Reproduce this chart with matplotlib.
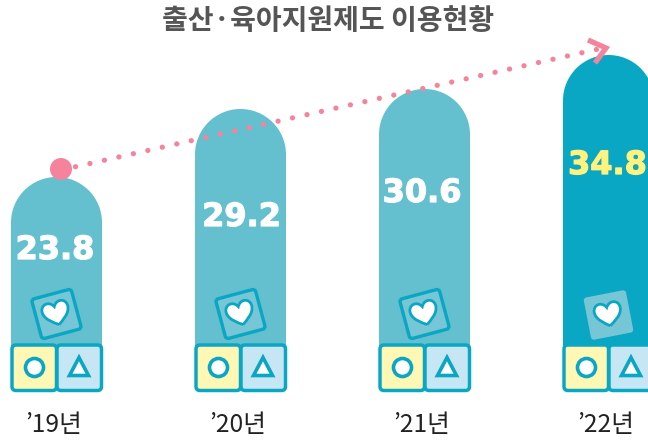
import numpy as np
import matplotlib
matplotlib.use("Agg")
import matplotlib.pyplot as plt
import matplotlib.patheffects as pe
from matplotlib.patches import Circle, FancyBboxPatch, PathPatch, Polygon
from matplotlib.path import Path
from matplotlib.transforms import Affine2D

plt.rcParams['font.family'] = ['Noto Sans CJK KR', 'DejaVu Sans']

years = ["’19년", "’20년", "’21년", "’22년"]
values = ["23.8", "29.2", "30.6", "34.8"]
# drawn height of each bar, the picture is not to scale with the values
bar_heights = [213, 281, 301, 335]

TEAL = "#0AA7C4"
BAR = "#64BFCF"
PINK = "#F5839C"
YELLOW = "#FFF7B4"
SKY = "#C6E6F4"

BASE = 390
BAR_W = 91
xs = 56.5 + 184 * np.arange(len(years))
label_rows = [250.5, 217.5, 193.5, 165.5]
label_shift = [-1.5, 1, -2.5, -1]


def py(pixel_y):
    """picture row to data y, data y is the height above the bar base"""
    return BASE - pixel_y


fig = plt.figure(figsize=(6.48, 4.40), dpi=100)
ax = fig.add_axes([0, 0, 1, 1])
ax.set_xlim(0, 648)
ax.set_ylim(py(440), py(0))
ax.set_axis_off()


def heart(cx, cy, size, angle):
    verts = np.array([
        (0, 1.0), (-0.4, 0.7), (-1.1, 0.3), (-1.1, -0.35),
        (-1.1, -1.0), (-0.3, -1.15), (0, -0.55),
        (0.3, -1.15), (1.1, -1.0), (1.1, -0.35),
        (1.1, 0.3), (0.4, 0.7), (0, 1.0),
    ]) * [1, -1] * size
    codes = [Path.MOVETO] + [Path.CURVE4] * 12
    tr = Affine2D().rotate_deg(angle).translate(cx, cy) + ax.transData
    ax.add_patch(PathPatch(Path(verts, codes), fc="white", ec=TEAL, lw=2.0, transform=tr, zorder=6))


def block(x0, y0, w, h, color, edge=TEAL):
    ax.add_patch(FancyBboxPatch((x0 + 3, py(y0 + h) + 3), w - 6, h - 6, boxstyle="round,pad=3,rounding_size=4",
                                fc=color, ec=edge, lw=2.5, zorder=5))


for i, x in enumerate(xs):
    h = bar_heights[i]
    last = i == len(xs) - 1
    color = TEAL if last else BAR
    ax.bar(x, h - BAR_W / 2, BAR_W, color=color, zorder=2)
    ax.add_patch(Circle((x, h - BAR_W / 2), BAR_W / 2, fc=color, ec="none", zorder=2))

    # the tilted heart block, the last one has no border
    angle = 15 if not last else 11
    half = 20.5 if not last else 21.5
    cy = py(314) if not last else py(315)
    tr = Affine2D().rotate_deg(angle).translate(x, cy) + ax.transData
    ax.add_patch(FancyBboxPatch((-half + 3, -half + 3), 2 * half - 6, 2 * half - 6,
                                boxstyle="round,pad=3,rounding_size=3",
                                fc="#76C6D6", ec="none" if last else TEAL, lw=2.4, transform=tr, zorder=3))
    heart(x - 0.5, cy + 1, 12, angle)

    # bottom blocks
    block(x - 44.5, 345, 44.5, 45.5, YELLOW)
    block(x + 0.5, 345, 44.5, 45.5, SKY)
    ax.add_patch(Circle((x - 22, py(367.5)), 9, fc="white", ec=TEAL, lw=2.6, zorder=6))
    ax.add_patch(Polygon([(x + 22.5, py(357.5)), (x + 32, py(375.5)), (x + 13, py(375.5))], closed=True,
                         fc="white", ec=TEAL, lw=2.6, joinstyle="miter", zorder=6))

    txt_color = "#FFF27E" if last else "white"
    ax.text(x + label_shift[i], py(label_rows[i]), values[i], family="DejaVu Sans", fontweight="bold",
            fontsize=23, color=txt_color, ha="center", va="center", zorder=7,
            path_effects=[pe.withStroke(linewidth=0.9, foreground=txt_color)])
    ax.text(x - 3, py(425), years[i], fontsize=17.8, color="#222222", ha="center", va="center", zorder=7)

ax.text(328, py(21), "출산·육아지원제도 이용현황", fontsize=20.2, fontweight="bold", color="#555555",
        ha="center", va="center", zorder=7)

# trend arrow
ax.plot([61, 603], [py(170), py(48)], color=PINK, lw=3.8, linestyle=(0, (0.01, 2.8)),
        dash_capstyle="round", zorder=8)
ax.add_patch(Circle((61, py(169)), 11, fc=PINK, ec="none", zorder=8))
ax.plot([588, 606, 595], [py(40), py(48), py(63)], color=PINK, lw=3.8, solid_joinstyle="miter",
        solid_capstyle="butt", zorder=8)

fig.savefig("out.png", dpi=100)
